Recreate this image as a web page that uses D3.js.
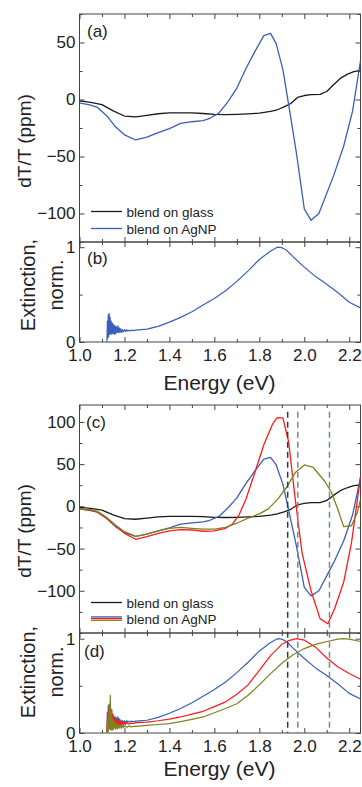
<!DOCTYPE html>
<html>
<head>
<meta charset="utf-8">
<script src="https://cdn.jsdelivr.net/npm/d3@7"></script>
<style>
  body { margin: 0; background: #fff; }
  svg { display: block; font-family: "Liberation Sans", Arial, sans-serif; }
</style>
</head>
<body>
<div id="chart"></div>
<script>
// ---- data ----
const xTickValues = [1.0, 1.2, 1.4, 1.6, 1.8, 2.0, 2.2];
const xMinorValues = [1.1, 1.3, 1.5, 1.7, 1.9, 2.1];
const dtTicksA = [-100, -50, 0, 50];
const dtTicksC = [-100, -50, 0, 50, 100];
const extTicks = [0, 1];

// dT/T, blend on glass
const dtEnergyGlass = [1.00,1.05,1.10,1.15,1.20,1.25,1.30,1.35,1.40,1.45,1.50,1.55,1.60,1.65,1.70,1.75,1.80,1.85,1.88,1.91,1.94,1.97,2.00,2.03,2.07,2.10,2.13,2.16,2.19,2.22,2.25];
const dtGlass = [-1.2,-2.5,-4.5,-10,-14.5,-15.3,-14,-12.5,-11.8,-11.8,-11.8,-12.3,-13,-13.2,-13,-12.6,-12,-10.5,-9,-6.5,-3.5,1.8,3.5,4.3,4.5,7,13,18.5,22,24.5,25.5];

// dT/T, blend on AgNP (blue)
const dtEnergyBlue = [1.00,1.05,1.08,1.12,1.16,1.20,1.25,1.30,1.35,1.40,1.45,1.50,1.55,1.58,1.62,1.66,1.70,1.74,1.78,1.82,1.85,1.875,1.905,1.935,1.965,2.00,2.03,2.065,2.13,2.175,2.215,2.25];
const dtBlue = [-3,-5,-7,-14,-24,-31,-35.5,-33,-29,-25.5,-21,-19.5,-18.5,-16.5,-12,-2,10,27,42,56,58,49,26,-10,-47,-96,-106,-100,-67,-41,-10,34];

// dT/T, blend on AgNP (red)
const dtEnergyRed = [1.00,1.05,1.08,1.12,1.16,1.20,1.25,1.30,1.35,1.40,1.45,1.50,1.55,1.60,1.65,1.68,1.71,1.74,1.78,1.82,1.86,1.88,1.905,1.93,1.96,1.99,2.03,2.07,2.105,2.135,2.175,2.21,2.25];
const dtRed = [-3,-4.5,-7,-14,-23,-32,-39,-36,-32,-29,-27.5,-28,-29.5,-29,-26,-21,-10,8,40,73,98,105,104.5,77,8,-55,-100,-133,-139,-121,-90,-43,35];

// dT/T, blend on AgNP (olive)
const dtEnergyOlive = [1.00,1.05,1.08,1.12,1.16,1.20,1.25,1.30,1.35,1.40,1.45,1.50,1.55,1.60,1.65,1.70,1.75,1.80,1.84,1.88,1.92,1.96,2.00,2.04,2.09,2.12,2.15,2.175,2.21,2.235,2.25];
const dtOlive = [-3,-4,-6,-13,-22,-30,-35.5,-33,-29,-26,-25,-26,-27,-27,-25,-20,-14,-9,-3,8,22,40,49,46,30,17,-4,-24,-23,-8,8];

// normalised extinction
const extEnergyBlue = [1.122,1.124,1.126,1.128,1.130,1.132,1.134,1.136,1.138,1.141,1.144,1.147,1.150,1.153,1.156,1.159,1.162,1.165,1.168,1.171,1.174,1.177,1.180,1.184,1.188,1.192,1.196,1.200,1.205,1.210,1.215,1.220,1.225,1.230,1.240,1.250,1.30,1.35,1.40,1.45,1.50,1.55,1.60,1.65,1.70,1.75,1.80,1.85,1.88,1.90,1.92,1.95,2.00,2.05,2.10,2.15,2.20,2.25];
const extBlue = [0,0.22,0.04,0.29,0.06,0.30,0.08,0.26,0.09,0.22,0.08,0.20,0.09,0.18,0.08,0.17,0.09,0.16,0.10,0.17,0.10,0.15,0.10,0.14,0.10,0.13,0.11,0.13,0.11,0.13,0.115,0.125,0.115,0.125,0.12,0.125,0.135,0.165,0.21,0.26,0.32,0.39,0.46,0.54,0.64,0.75,0.87,0.96,1.0,0.995,0.97,0.9,0.79,0.69,0.61,0.52,0.42,0.36];

const extEnergyRed = [1.122,1.125,1.128,1.131,1.134,1.137,1.140,1.143,1.146,1.149,1.152,1.155,1.158,1.161,1.164,1.167,1.170,1.174,1.178,1.182,1.186,1.190,1.195,1.200,1.205,1.210,1.220,1.230,1.240,1.25,1.30,1.35,1.40,1.45,1.50,1.55,1.60,1.65,1.70,1.75,1.80,1.85,1.90,1.93,1.965,2.00,2.05,2.10,2.15,2.20,2.25];
const extRed = [0,0.2,0.05,0.27,0.06,0.32,0.05,0.25,0.07,0.2,0.06,0.16,0.07,0.15,0.07,0.14,0.08,0.13,0.07,0.12,0.08,0.12,0.08,0.11,0.09,0.11,0.095,0.105,0.1,0.11,0.115,0.13,0.148,0.17,0.2,0.23,0.28,0.33,0.41,0.51,0.665,0.82,0.94,0.98,1.0,0.985,0.91,0.795,0.7,0.63,0.57];

const extEnergyOlive = [1.122,1.126,1.129,1.132,1.135,1.137,1.140,1.143,1.146,1.149,1.152,1.156,1.160,1.164,1.168,1.172,1.176,1.180,1.185,1.190,1.195,1.200,1.210,1.220,1.230,1.240,1.25,1.30,1.35,1.40,1.45,1.50,1.55,1.60,1.65,1.70,1.75,1.80,1.85,1.90,1.95,2.00,2.05,2.10,2.15,2.17,2.20,2.25];
const extOlive = [0,0.15,0.02,0.3,0.04,0.4,0.03,0.25,0.03,0.15,0.04,0.12,0.04,0.1,0.04,0.09,0.05,0.09,0.05,0.08,0.055,0.075,0.06,0.075,0.065,0.07,0.07,0.08,0.09,0.1,0.12,0.145,0.17,0.215,0.26,0.31,0.4,0.51,0.63,0.74,0.83,0.895,0.94,0.97,0.995,1.0,0.995,0.97];

// dashed guide lines (eV)
const guideEnergies = [1.926, 1.971, 2.112];
const guideColors = ["#2c3e3e", "#7a8a8a", "#7a8a8a"];

const legendLabels = ["blend on glass", "blend on AgNP"];

const BLACK = "#1a1a1a", BLUE = "#3a5fb8", RED = "#ff1a1a", OLIVE = "#808020";
const FRAME = "#444";

// ---- layout ----
const W = 362, H = 787;
const svg = d3.select("#chart").append("svg").attr("width", W).attr("height", H);

const x = d3.scaleLinear().domain([1.0, 2.25]).range([79.5, 360.5]);

const yA = d3.scaleLinear().domain([-125, 75]).range([242, 14]);
const yB = d3.scaleLinear().domain([0, 1.055]).range([342, 242]);
const yC = d3.scaleLinear().domain([-150, 120]).range([633, 405]);
const yD = d3.scaleLinear().domain([0, 1.06]).range([733, 633]);

let clipId = 0;

function drawFrame(y, major, minor, showXLabels) {
  const [bottom, top] = y.range();
  const [left, right] = x.range();

  const axes = [
    [d3.axisBottom(x).tickValues(xTickValues).tickSize(-5).tickPadding(7)
       .tickFormat(showXLabels ? d3.format(".1f") : ""), `translate(0,${bottom})`],
    [d3.axisBottom(x).tickValues(xMinorValues).tickSize(-3).tickFormat(""), `translate(0,${bottom})`],
    [d3.axisTop(x).tickValues(xTickValues).tickSize(-5).tickFormat(""), `translate(0,${top})`],
    [d3.axisTop(x).tickValues(xMinorValues).tickSize(-3).tickFormat(""), `translate(0,${top})`],
    [d3.axisLeft(y).tickValues(major).tickSize(-5).tickPadding(4).tickFormat(d3.format("d")), `translate(${left},0)`],
    [d3.axisLeft(y).tickValues(minor).tickSize(-3).tickFormat(""), `translate(${left},0)`],
    [d3.axisRight(y).tickValues(major).tickSize(-5).tickFormat(""), `translate(${right},0)`],
    [d3.axisRight(y).tickValues(minor).tickSize(-3).tickFormat(""), `translate(${right},0)`]
  ];
  axes.forEach(([ax, tr]) => {
    const g = svg.append("g").attr("transform", tr).call(ax);
    g.attr("font-family", null).attr("font-size", 17);
    g.select(".domain").remove();
    g.selectAll("line").attr("stroke", FRAME);
    g.selectAll("text").attr("fill", "#222");
  });

  svg.append("rect")
     .attr("x", left).attr("y", top)
     .attr("width", right - left).attr("height", bottom - top)
     .attr("fill", "none").attr("stroke", FRAME).attr("stroke-width", 1);

  const id = "clip" + (clipId++);
  svg.append("clipPath").attr("id", id).append("rect")
     .attr("x", left).attr("y", top).attr("width", right - left).attr("height", bottom - top);
  return svg.append("g").attr("clip-path", `url(#${id})`);
}

function drawLine(g, y, energies, values, color, width) {
  const line = d3.line().x(d => x(d[0])).y(d => y(d[1]));
  g.append("path")
   .datum(d3.zip(energies, values))
   .attr("d", line)
   .attr("fill", "none")
   .attr("stroke", color)
   .attr("stroke-width", width || 1.3)
   .attr("stroke-linejoin", "round");
}

function text(str, tx, ty, size, opts) {
  opts = opts || {};
  const t = svg.append("text")
     .attr("x", tx).attr("y", ty)
     .attr("font-size", size)
     .attr("fill", "#222")
     .attr("text-anchor", opts.anchor || "start")
     .text(str);
  if (opts.rotate) t.attr("transform", `rotate(-90,${tx},${ty})`);
  return t;
}

function legendRow(ly, colors, label) {
  colors.forEach(([c, off]) => {
    svg.append("line")
       .attr("x1", 91).attr("x2", 122)
       .attr("y1", ly + off).attr("y2", ly + off)
       .attr("stroke", c).attr("stroke-width", 1.3);
  });
  text(label, 126.5, ly + 5, 13.5);
}

// ---- panel (a) ----
const gA = drawFrame(yA, dtTicksA, [-125, -75, -25, 25, 75], false);
drawLine(gA, yA, dtEnergyGlass, dtGlass, BLACK);
drawLine(gA, yA, dtEnergyBlue, dtBlue, BLUE);
text("(a)", 87, 37, 17);
text("dT/T (ppm)", 31, 141, 19, { anchor: "middle", rotate: true });
legendRow(211.5, [[BLACK, 0]], legendLabels[0]);
legendRow(228.5, [[BLUE, 0]], legendLabels[1]);

// ---- panel (b) ----
const gB = drawFrame(yB, extTicks, [0.5], true);
drawLine(gB, yB, extEnergyBlue, extBlue, BLUE, 1.2);
text("(b)", 87, 264, 17);
text("Extinction,", 35, 285, 20, { anchor: "middle", rotate: true });
text("norm.", 63, 285, 20, { anchor: "middle", rotate: true });
text("Energy (eV)", 219.5, 390, 21, { anchor: "middle" });

// ---- panel (c) ----
const gC = drawFrame(yC, dtTicksC, [-150, -125, -75, -25, 25, 75], false);
drawLine(gC, yC, dtEnergyGlass, dtGlass, BLACK);
drawLine(gC, yC, dtEnergyBlue, dtBlue, BLUE);
drawLine(gC, yC, dtEnergyRed, dtRed, RED);
drawLine(gC, yC, dtEnergyOlive, dtOlive, OLIVE);
text("(c)", 86, 428, 17);
text("dT/T (ppm)", 31, 531, 19, { anchor: "middle", rotate: true });
legendRow(602.5, [[BLACK, 0]], legendLabels[0]);
legendRow(618.5, [[BLUE, -1.6], [OLIVE, 1.8], [RED, 0]], legendLabels[1]);

// ---- panel (d) ----
const gD = drawFrame(yD, extTicks, [0.5], true);
drawLine(gD, yD, extEnergyBlue, extBlue, BLUE, 1.2);
drawLine(gD, yD, extEnergyRed, extRed, RED, 1.2);
drawLine(gD, yD, extEnergyOlive, extOlive, OLIVE, 1.2);
text("(d)", 84, 657, 17);
text("Extinction,", 35, 672, 20, { anchor: "middle", rotate: true });
text("norm.", 63, 672, 20, { anchor: "middle", rotate: true });
text("Energy (eV)", 219.5, 776, 21, { anchor: "middle" });

// dashed guides through (c) and (d)
svg.append("g").selectAll("line")
   .data(d3.zip(guideEnergies, guideColors))
   .join("line")
   .attr("x1", d => x(d[0])).attr("x2", d => x(d[0]))
   .attr("y1", yC(112)).attr("y2", yD(0))
   .attr("stroke", d => d[1])
   .attr("stroke-width", 1.5)
   .attr("stroke-dasharray", "6,4");
</script>
</body>
</html>
